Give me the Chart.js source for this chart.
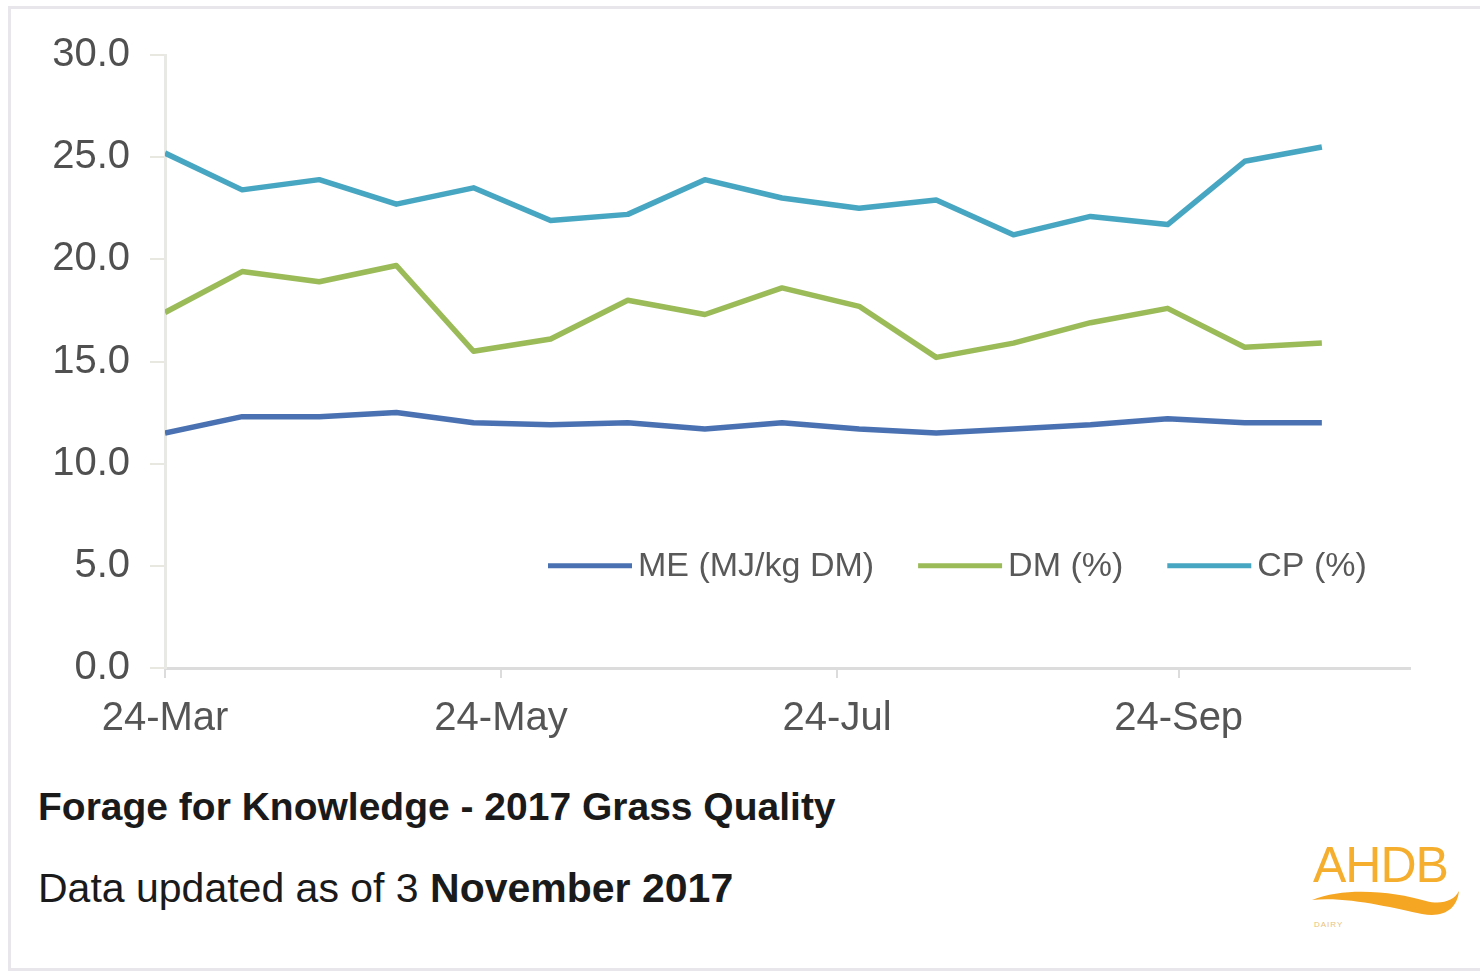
<!DOCTYPE html>
<html>
<head>
<meta charset="utf-8">
<script src="https://cdn.jsdelivr.net/npm/chart.js@4.4.1/dist/chart.umd.min.js"></script>
<style>
  html, body { margin: 0; padding: 0; background: #fff; overflow: hidden; }
  body { width: 1480px; height: 972px; position: relative; font-family: "Liberation Sans", Arial, sans-serif; }
  #frame { position: absolute; left: 8px; top: 6px; width: 1500px; height: 959px; border: 3px solid #e8e6ea; }
  #chartBox { position: absolute; left: 0; top: 0; width: 1480px; height: 760px; }
  .note { position: absolute; left: 38px; font-size: 39px; line-height: 39px; color: #1a1a1a; white-space: nowrap; }
  #title { top: 787px; font-weight: bold; }
  #updated { top: 868px; font-size: 41px; line-height: 41px; }
  #updated b { font-weight: bold; }
  #logo { position: absolute; left: 1306px; top: 836px; width: 160px; height: 100px; }
  #logo .word { position: absolute; left: 7px; top: 4px; font-size: 50px; line-height: 50px; color: #f5ae2e; letter-spacing: -1px; }
  #logo .sub { position: absolute; left: 8px; top: 84px; font-size: 8px; color: #e9c27a; letter-spacing: 1px; }
  #logo svg { position: absolute; left: 0; top: 0; }
</style>
</head>
<body>
<div id="frame"></div>
<div id="chartBox"><canvas id="chart"></canvas></div>
<div class="note" id="title">Forage for Knowledge - 2017 Grass Quality</div>
<div class="note" id="updated">Data updated as of 3 <b>November 2017</b></div>
<div id="logo">
  <svg width="160" height="100"><path d="M6 64 C40 50 90 56 120 65 C135 69 148 65 153 55 C151 73 138 82 116 78 C88 72 40 60 6 64 Z" fill="#f5a623"/></svg>
  <div class="word">AHDB</div>
  <div class="sub">DAIRY</div>
</div>
<script>
// sample dates (fortnightly) and readings
const sampleDates = ['2017-03-24', '2017-04-07', '2017-04-21', '2017-05-05', '2017-05-19', '2017-06-02',
  '2017-06-16', '2017-06-30', '2017-07-14', '2017-07-28', '2017-08-11', '2017-08-25',
  '2017-09-08', '2017-09-22', '2017-10-06', '2017-10-20'];
const meValues = [11.5, 12.3, 12.3, 12.5, 12.0, 11.9, 12.0, 11.7, 12.0, 11.7, 11.5, 11.7, 11.9, 12.2, 12.0, 12.0];
const dmValues = [17.4, 19.4, 18.9, 19.7, 15.5, 16.1, 18.0, 17.3, 18.6, 17.7, 15.2, 15.9, 16.9, 17.6, 15.7, 15.9];
const cpValues = [25.2, 23.4, 23.9, 22.7, 23.5, 21.9, 22.2, 23.9, 23.0, 22.5, 22.9, 21.2, 22.1, 21.7, 24.8, 25.5];
const seriesNames = ['ME (MJ/kg DM)', 'DM (%)', 'CP (%)'];
const seriesColors = ['#4a72b2', '#9bbb59', '#47a6c2'];

const tickDates = ['2017-03-24', '2017-05-24', '2017-07-24', '2017-09-24'];
const tickLabels = ['24-Mar', '24-May', '24-Jul', '24-Sep'];
const axisEndDate = '2017-11-05';
const yTicks = [0, 5, 10, 15, 20, 25, 30];

const DAY = 86400000;
const startMs = Date.parse(sampleDates[0]);
const dayOf = d => Math.round((Date.parse(d) - startMs) / DAY);

const toPoints = vals => vals.map((v, i) => ({ x: dayOf(sampleDates[i]), y: v }));

const tickFont = { family: "'Liberation Sans', Arial, sans-serif", size: 40 };
const axisGrey = '#dcdcdc';

// legend drawn inside the plot, on the 5.0 line
const insideLegend = {
  id: 'insideLegend',
  afterDraw(chart) {
    const ctx = chart.ctx;
    const y = chart.scales.y.getPixelForValue(5);
    let x = chart.chartArea.left + 383;
    ctx.save();
    ctx.font = "34px 'Liberation Sans', Arial, sans-serif";
    ctx.textBaseline = 'middle';
    ctx.fillStyle = '#595959';
    chart.data.datasets.forEach(ds => {
      ctx.strokeStyle = ds.borderColor;
      ctx.lineWidth = 5;
      ctx.beginPath();
      ctx.moveTo(x, y);
      ctx.lineTo(x + 84, y);
      ctx.stroke();
      x += 90;
      ctx.fillText(ds.label, x, y + 1);
      x += ctx.measureText(ds.label).width + 44;
    });
    ctx.restore();
  }
};

new Chart(document.getElementById('chart'), {
  type: 'line',
  data: {
    datasets: [meValues, dmValues, cpValues].map((vals, i) => ({
      label: seriesNames[i],
      data: toPoints(vals),
      borderColor: seriesColors[i],
      backgroundColor: seriesColors[i],
      borderWidth: 5.5,
      pointRadius: 0,
      tension: 0,
      borderJoinStyle: 'round',
      borderCapStyle: 'butt'
    }))
  },
  options: {
    responsive: true,
    maintainAspectRatio: false,
    animation: false,
    layout: { padding: { left: 0, top: 55, right: 70, bottom: 0 } },
    plugins: {
      legend: { display: false },
      tooltip: { enabled: false }
    },
    scales: {
      x: {
        type: 'linear',
        min: 0,
        max: dayOf(axisEndDate),
        afterBuildTicks: s => { s.ticks = tickDates.map(d => ({ value: dayOf(d) })); },
        afterFit: s => { s.height = 92; },
        ticks: {
          font: tickFont,
          color: '#555555',
          padding: 17,
          maxRotation: 0,
          autoSkip: false,
          callback: (v) => tickLabels[tickDates.map(dayOf).indexOf(v)]
        },
        grid: { drawOnChartArea: false, drawTicks: true, tickLength: 10, color: axisGrey, lineWidth: 2 },
        border: { display: true, color: axisGrey, width: 3 }
      },
      y: {
        min: 0,
        max: 30,
        afterBuildTicks: s => { s.ticks = yTicks.map(v => ({ value: v })); },
        afterFit: s => { s.width = 165; },
        ticks: {
          font: tickFont,
          color: '#505050',
          padding: 20,
          callback: v => v.toFixed(1)
        },
        grid: { drawOnChartArea: false, drawTicks: true, tickLength: 15, color: '#e8e8e0', lineWidth: 2 },
        border: { display: true, color: '#e8e8e4', width: 3 }
      }
    }
  },
  plugins: [insideLegend]
});
</script>
</body>
</html>
